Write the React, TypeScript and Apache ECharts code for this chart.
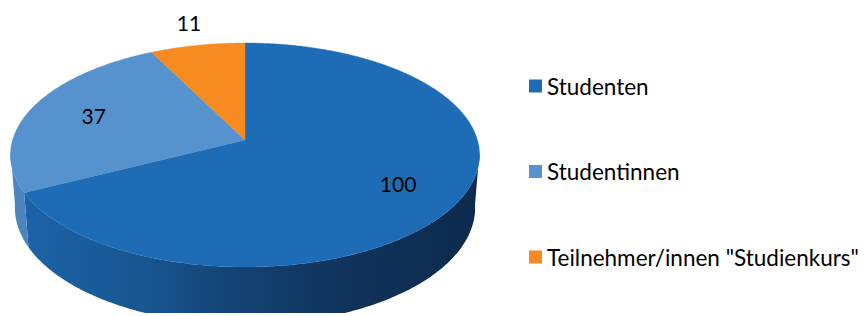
import React, { useEffect, useRef } from 'react';
import * as echarts from 'echarts';

// ---- data ----
const categories = ['Studenten', 'Studentinnen', 'Teilnehmer/innen "Studienkurs"'];
const values = [100, 37, 11];
const colors = ['#1e6cb5', '#5592ce', '#f68b21'];

// ---- layout (perspective camera for the 3D pie) ----
const CX = 245;
const CY = 140;
const F = 1527.8;
const DIST = 6.574;
const SIN_A = 0.4733;
const COS_A = 0.8809;
const DEPTH = 0.26;
const CLIP_Y = 313;
const SHADOW = [12, 39, 72];

function project(phiDeg: number, r: number, y: number): number[] {
  const p = (phiDeg * Math.PI) / 180;
  const u = r * Math.sin(p);
  const z = -r * Math.cos(p);
  const depth = DIST - y * SIN_A - z * COS_A;
  return [CX + (F * u) / depth, CY + (F * (z * SIN_A - y * COS_A)) / depth];
}

function hexToRgb(h: string): number[] {
  const n = parseInt(h.slice(1), 16);
  return [(n >> 16) & 255, (n >> 8) & 255, n & 255];
}

function mix(hex: string, m: number): string {
  const c = hexToRgb(hex);
  const r = c.map((v, i) => Math.round(v * (1 - m) + SHADOW[i] * m));
  return `rgb(${r[0]},${r[1]},${r[2]})`;
}

const shadeStops = [
  [0, 0.1],
  [0.3, 0.35],
  [0.5, 0.62],
  [0.75, 0.85],
  [1, 0.95],
];

function makeRenderItem(index: number) {
  return (params: any, api: any) => {
    const v = api.value(0) as number;
    const total = values.reduce((a, b) => a + b, 0);
    const before = values.slice(0, index).reduce((a, b) => a + b, 0);
    const a0 = (before / total) * 360;
    const a1 = ((before + v) / total) * 360;
    const color = colors[index];
    const children: any[] = [];

    // top face
    const topPts: number[][] = [[CX, CY]];
    const steps = Math.max(2, Math.ceil((a1 - a0) / 0.5));
    for (let s = 0; s <= steps; s++) {
      topPts.push(project(a0 + ((a1 - a0) * s) / steps, 1, 0));
    }
    children.push({
      type: 'polygon',
      shape: { points: topPts },
      style: { fill: color, stroke: color, lineWidth: 0.4 },
      z2: 10,
    });

    // outer wall (visible front part)
    const w0 = Math.max(a0, 96);
    const w1 = Math.min(a1, 264);
    if (w1 > w0) {
      const ws = Math.max(2, Math.ceil((w1 - w0) / 0.5));
      const up: number[][] = [];
      const down: number[][] = [];
      for (let s = 0; s <= ws; s++) {
        const a = w0 + ((w1 - w0) * s) / ws;
        up.push(project(a, 1, 0));
        const b = project(a, 1, -DEPTH);
        down.push([b[0], Math.min(b[1], CLIP_Y)]);
      }
      const pts = up.concat(down.reverse());
      children.push({
        type: 'polygon',
        shape: { points: pts },
        style: {
          fill: {
            type: 'linear',
            x: CX - 236,
            y: 0,
            x2: CX + 236,
            y2: 0,
            global: true,
            colorStops: shadeStops.map(([o, m]) => ({ offset: o, color: mix(color, m) })),
          },
        },
        z2: 1,
      });
    }

    // data label
    const share = v / total;
    const mid = (a0 + a1) / 2;
    const lp = project(mid, share < 0.1 ? 1.28 : 0.72, 0);
    children.push({
      type: 'text',
      style: {
        text: String(v),
        x: lp[0] + 3,
        y: lp[1],
        align: 'center',
        verticalAlign: 'middle',
        fontFamily: 'Lato',
        fontSize: 21,
        fill: '#000',
      },
      z2: 20,
    });

    return { type: 'group', children };
  };
}

export default function App() {
  const ref = useRef<HTMLDivElement>(null);
  useEffect(() => {
    document.body.style.margin = '0';
    const chart = echarts.init(ref.current!, null, { renderer: 'svg' });
    chart.setOption({
      animation: false,
      backgroundColor: '#ffffff',
      color: colors,
      legend: categories.map((name, i) => ({
        data: [name],
        left: 529,
        top: 74 + i * 85.5,
        orient: 'vertical',
        icon: 'rect',
        itemWidth: 13,
        itemHeight: 13,
        itemGap: 0,
        padding: 0,
        selectedMode: false,
        textStyle: { fontFamily: 'Lato', fontSize: 22.5, color: '#000', lineHeight: 24 },
      })),
      series: categories.map((name, i) => ({
        type: 'custom',
        name,
        coordinateSystem: 'none',
        itemStyle: { color: colors[i] },
        data: [[values[i]]],
        renderItem: makeRenderItem(i),
      })),
    });
    return () => chart.dispose();
  }, []);
  return <div ref={ref} style={{ width: 864, height: 316 }} />;
}
